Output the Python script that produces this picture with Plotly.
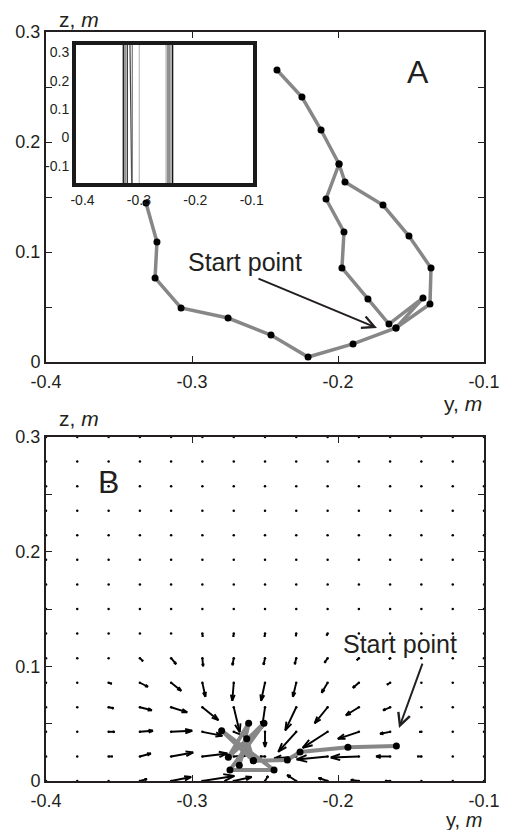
import plotly.graph_objects as go

W, H = 509, 830

# ---------------- Panel A: trajectory (y, z in metres) ----------------
a_y = [-0.3315, -0.3240, -0.3253, -0.3075, -0.2753, -0.2459, -0.2205, -0.1897, -0.1603,
       -0.1370, -0.1363, -0.1514, -0.1692, -0.1952, -0.1993, -0.2082, -0.1959, -0.1973,
       -0.1795, -0.1651, -0.1418, -0.1603,
       None, -0.1993, -0.2116, -0.2247, -0.2418]
a_z = [0.1445, 0.1091, 0.0764, 0.0491, 0.0400, 0.0245, 0.0045, 0.0164, 0.0309,
       0.0527, 0.0855, 0.1145, 0.1427, 0.1636, 0.1800, 0.1482, 0.1182, 0.0855,
       0.0573, 0.0345, 0.0582, 0.0309,
       None, 0.1800, 0.2109, 0.2409, 0.2655]

# ---------------- Inset: vertical traces ----------------
inset_x_top = [-0.3277, -0.3246, -0.3206, -0.3158, -0.3117, -0.2993, -0.2520, -0.2496, -0.2466, -0.2431, -0.2401]
inset_x_bot = [-0.3277, -0.3246, -0.3206, -0.3128, -0.3117, -0.2993, -0.2520, -0.2496, -0.2466, -0.2431, -0.2401]
inset_colors = ['#000000', '#555555', '#222222', '#444444', '#777777', '#bbbbbb',
                '#bbbbbb', '#888888', '#444444', '#777777', '#000000']

# ---------------- Panel B: trajectory ----------------
b_y = [-0.1600, -0.1932, -0.2260, -0.2347, -0.2580, -0.2797, -0.2438, -0.2740, -0.2507,
       -0.2751, -0.2612, -0.2676, -0.2625, -0.2580]
b_z = [0.0305, 0.0294, 0.0253, 0.0183, 0.0177, 0.0439, 0.0096, 0.0096, 0.0503,
       0.0207, 0.0503, 0.0137, 0.0369, 0.0177]

# ---------------- Panel B: force field grid (m) and vectors (mm) ----------------
grid_y = [-0.4, -0.3786, -0.3571, -0.3357, -0.3143, -0.2929, -0.2714, -0.25,
          -0.2286, -0.2071, -0.1857, -0.1643, -0.1429, -0.1214, -0.1]
grid_z = [0.0, 0.0214, 0.0429, 0.0643, 0.0857, 0.1071, 0.1286, 0.15,
          0.1714, 0.1929, 0.2143, 0.2357, 0.2571, 0.2786, 0.3]

U = [
    [0, 0, 0, 4.8, 13.7, 21.9, 12.3, 2.1, -6.2, -6.2, -5.5, -3.4, 0, 0, 0],
    [0, 0, 2.7, 7.5, 15.1, 17.1, 8.2, -3.4, -15.1, -21.2, -19.2, -9.6, -2.7, 0, 0],
    [0, 0, 4.1, 8.9, 14.4, 13.7, 6.9, 0.0, -12.3, -17.1, -14.4, -6.9, -1.4, 0, 0],
    [0, 0, 3.4, 8.2, 11.0, 11.0, 4.1, -2.1, -7.5, -8.9, -8.9, -4.8, -0.7, 0, 0],
    [0, 0, 2.1, 5.5, 6.9, 2.1, -1.0, -2.7, -2.3, -4.1, -4.1, -2.1, 0, 0, 0],
    [0, 0, 0, 2.1, 3.4, 0.5, -0.9, -1.0, -1.0, -2.1, -1.4, -0.7, 0, 0, 0],
    [0, 0, 0, 0, 0, 0.2, -0.3, -0.3, -0.3, -0.7, 0, 0, 0, 0, 0],
    [0, 0, 0, 0, 0, 0, 0, 0, 0, 0, 0, 0, 0, 0, 0],
    [0, 0, 0, 0, 0, 0, 0, 0, 0, 0, 0, 0, 0, 0, 0],
    [0, 0, 0, 0, 0, 0, 0, 0, 0, 0, 0, 0, 0, 0, 0],
    [0, 0, 0, 0, 0, 0, 0, 0, 0, 0, 0, 0, 0, 0, 0],
    [0, 0, 0, 0, 0, 0, 0, 0, 0, 0, 0, 0, 0, 0, 0],
    [0, 0, 0, 0, 0, 0, 0, 0, 0, 0, 0, 0, 0, 0, 0],
    [0, 0, 0, 0, 0, 0, 0, 0, 0, 0, 0, 0, 0, 0, 0],
    [0, 0, 0, 0, 0, 0, 0, 0, 0, 0, 0, 0, 0, 0, 0],
]
V = [
    [0, 0, 0, 1.7, 3.5, 4.4, 3.5, 4.4, 5.2, 2.6, 0.9, 0, 0, 0, 0],
    [0, 0, 0, 2.6, 3.5, 2.6, 0.9, 0, -1.7, -2.6, -0.9, 0, 0, 0, 0],
    [0, 0, 0, 0.9, 0.9, -3.5, -3.5, -13.1, -17.4, -14.0, -6.1, -1.7, 0, 0, 0],
    [0, 0, -0.9, -2.6, -4.4, -11.3, -21.8, -18.3, -20.1, -14.0, -7.0, -2.6, 0, 0, 0],
    [0, 0, -0.9, -3.5, -7.0, -12.2, -15.7, -15.7, -12.2, -8.7, -4.4, -1.7, 0, 0, 0],
    [0, 0, 0, -2.6, -5.2, -7.0, -6.1, -5.7, -5.2, -3.9, -1.7, -0.9, 0, 0, 0],
    [0, 0, 0, 0, 0, -2.6, -2.6, -2.6, -2.2, -1.7, 0, 0, 0, 0, 0],
    [0, 0, 0, 0, 0, 0, 0, 0, 0, 0, 0, 0, 0, 0, 0],
    [0, 0, 0, 0, 0, 0, 0, 0, 0, 0, 0, 0, 0, 0, 0],
    [0, 0, 0, 0, 0, 0, 0, 0, 0, 0, 0, 0, 0, 0, 0],
    [0, 0, 0, 0, 0, 0, 0, 0, 0, 0, 0, 0, 0, 0, 0],
    [0, 0, 0, 0, 0, 0, 0, 0, 0, 0, 0, 0, 0, 0, 0],
    [0, 0, 0, 0, 0, 0, 0, 0, 0, 0, 0, 0, 0, 0, 0],
    [0, 0, 0, 0, 0, 0, 0, 0, 0, 0, 0, 0, 0, 0, 0],
    [0, 0, 0, 0, 0, 0, 0, 0, 0, 0, 0, 0, 0, 0, 0],
]

x_ticks = [-0.4, -0.3, -0.2, -0.1]
x_ticktext = ['-0.4', '-0.3', '-0.2', '-0.1']
z_ticks = [0, 0.05, 0.1, 0.15, 0.2, 0.25, 0.3]
z_ticktext = ['0', '', '0.1', '', '0.2', '', '0.3']
inset_zticks = [-0.1, 0, 0.1, 0.2, 0.3]
inset_zticktext = ['-0.1', '0', '0.1', '0.2', '0.3']

# ---------------- layout geometry ----------------
XDOM = [46 / W, 484 / W]
A_YDOM = [1 - 362 / H, 1 - 32 / H]
B_YDOM = [1 - 781 / H, 1 - 437 / H]
IN_XDOM = [76 / W, 253 / W]
IN_YDOM = [1 - 183 / H, 1 - 45 / H]
XR = [-0.4, -0.1]
ZR = [0, 0.3]
IN_XR = [-0.4115, -0.0977]
IN_ZR = [-0.160, 0.326]

TXT = '#231f20'
FONT = 'Arial, Liberation Sans, Helvetica, sans-serif'
GRAY = '#878787'

fig = go.Figure()

# Panel A trajectory
fig.add_trace(go.Scatter(x=a_y, y=a_z, mode='lines', line=dict(color=GRAY, width=3.5),
                         xaxis='x', yaxis='y', hoverinfo='skip', showlegend=False))
fig.add_trace(go.Scatter(x=a_y, y=a_z, mode='markers', marker=dict(color='black', size=7),
                         xaxis='x', yaxis='y', hoverinfo='skip', showlegend=False))

# Inset lines
for xt, xb, c in zip(inset_x_top, inset_x_bot, inset_colors):
    fig.add_trace(go.Scatter(x=[xt, xb], y=[IN_ZR[1], IN_ZR[0]], mode='lines',
                             line=dict(color=c, width=1.2), xaxis='x3', yaxis='y3',
                             hoverinfo='skip', showlegend=False))

# Panel B quiver
KX = (XDOM[1] - XDOM[0]) * W / (XR[1] - XR[0])
KY = (B_YDOM[1] - B_YDOM[0]) * H / (ZR[1] - ZR[0])
alpha, beta = 0.33, 0.33
qx, qy = [], []
for j, zz in enumerate(grid_z):
    for i, yy in enumerate(grid_y):
        du = U[j][i] / 1000.0
        dv = V[j][i] / 1000.0
        up, vp = du * KX, dv * KY
        if (up * up + vp * vp) ** 0.5 < 1.2:
            continue
        tx, tz = yy + du, zz + dv
        qx += [yy, tx, None]
        qy += [zz, tz, None]
        h1x = up - alpha * (up + beta * vp)
        h1y = vp - alpha * (vp - beta * up)
        h2x = up - alpha * (up - beta * vp)
        h2y = vp - alpha * (vp + beta * up)
        qx += [yy + h1x / KX, tx, yy + h2x / KX, None]
        qy += [zz + h1y / KY, tz, zz + h2y / KY, None]
gx = [yy for zz in grid_z for yy in grid_y]
gz = [zz for zz in grid_z for yy in grid_y]
fig.add_trace(go.Scatter(x=gx, y=gz, mode='markers', marker=dict(color='black', size=2.5),
                         xaxis='x2', yaxis='y2', hoverinfo='skip', showlegend=False))
fig.add_trace(go.Scatter(x=qx, y=qy, mode='lines', line=dict(color='black', width=1.9),
                         xaxis='x2', yaxis='y2', hoverinfo='skip', showlegend=False))
fig.add_trace(go.Scatter(x=b_y, y=b_z, mode='lines', line=dict(color=GRAY, width=4),
                         xaxis='x2', yaxis='y2', hoverinfo='skip', showlegend=False))
fig.add_trace(go.Scatter(x=b_y, y=b_z, mode='markers', marker=dict(color='black', size=7),
                         xaxis='x2', yaxis='y2', hoverinfo='skip', showlegend=False))


def main_axes(dom, anchor, kind):
    common = dict(domain=dom, anchor=anchor, showline=True, linecolor=TXT, linewidth=2,
                  mirror='allticks', ticks='inside', ticklen=6, tickwidth=1.2, tickcolor=TXT,
                  showgrid=False, zeroline=False, fixedrange=True, automargin=False,
                  tickfont=dict(family=FONT, size=18, color=TXT))
    if kind == 'x':
        common.update(range=XR, tickvals=x_ticks, ticktext=x_ticktext, ticklabelstandoff=2)
    else:
        common.update(range=ZR, tickvals=z_ticks, ticktext=z_ticktext, ticklabelstandoff=0)
    return common


fig.update_layout(
    template=None,
    width=W, height=H, margin=dict(l=0, r=0, t=0, b=0, autoexpand=False),
    paper_bgcolor='white', plot_bgcolor='white',
    xaxis=main_axes(XDOM, 'y', 'x'),
    yaxis=main_axes(A_YDOM, 'x', 'y'),
    xaxis2=main_axes(XDOM, 'y2', 'x'),
    yaxis2=main_axes(B_YDOM, 'x2', 'y'),
    xaxis3=dict(domain=IN_XDOM, anchor='y3', range=IN_XR, showline=True, linecolor='#1a1a1a',
                linewidth=4, mirror=True, ticks='', showgrid=False, zeroline=False, automargin=False,
                tickvals=x_ticks, ticktext=x_ticktext, ticklabelstandoff=1,
                tickfont=dict(family=FONT, size=14, color=TXT)),
    yaxis3=dict(domain=IN_YDOM, anchor='x3', range=IN_ZR, showline=True, linecolor='#1a1a1a',
                linewidth=4, mirror=True, ticks='', showgrid=False, zeroline=False, automargin=False,
                tickvals=inset_zticks, ticktext=inset_zticktext, ticklabelstandoff=0,
                tickfont=dict(family=FONT, size=14, color=TXT)),
)

ann = []
# axis titles
for ytop, ybot, ysz in [(19, 404, 21), (418, 820, 20)]:
    ann.append(dict(xref='paper', yref='paper', x=57 / W, y=1 - ytop / H, xanchor='left', yanchor='middle',
                    text='z, <i>m</i>', showarrow=False, font=dict(family=FONT, size=21, color=TXT)))
    ann.append(dict(xref='paper', yref='paper', x=484 / W, y=1 - ybot / H, xanchor='right', yanchor='middle',
                    text='y, <i>m</i>', showarrow=False, font=dict(family=FONT, size=ysz, color=TXT)))
# panel letters
ann.append(dict(xref='x', yref='y', x=-0.1452, y=0.2636, text='A', showarrow=False,
                font=dict(family=FONT, size=32, color=TXT)))
ann.append(dict(xref='x2', yref='y2', x=-0.3575, y=0.2607, text='B', showarrow=False,
                font=dict(family=FONT, size=32, color=TXT)))
# start point labels
ann.append(dict(xref='x', yref='y', x=-0.2637, y=0.091, text='Start point', showarrow=False,
                font=dict(family=FONT, size=25, color=TXT)))
ann.append(dict(xref='x', yref='y', x=-0.1733, y=0.031, ax=-0.2555, ay=0.0764, axref='x', ayref='y',
                text='', showarrow=True, arrowhead=5, arrowsize=1.2, arrowwidth=2, arrowcolor=TXT))
ann.append(dict(xref='x2', yref='y2', x=-0.1575, y=0.1194, text='Start point', showarrow=False,
                font=dict(family=FONT, size=25, color=TXT)))
ann.append(dict(xref='x2', yref='y2', x=-0.1582, y=0.0462, ax=-0.1418, ay=0.1037, axref='x2', ayref='y2',
                text='', showarrow=True, arrowhead=5, arrowsize=1.2, arrowwidth=2, arrowcolor=TXT))
fig.update_layout(annotations=ann)

fig.write_html('out.html')
